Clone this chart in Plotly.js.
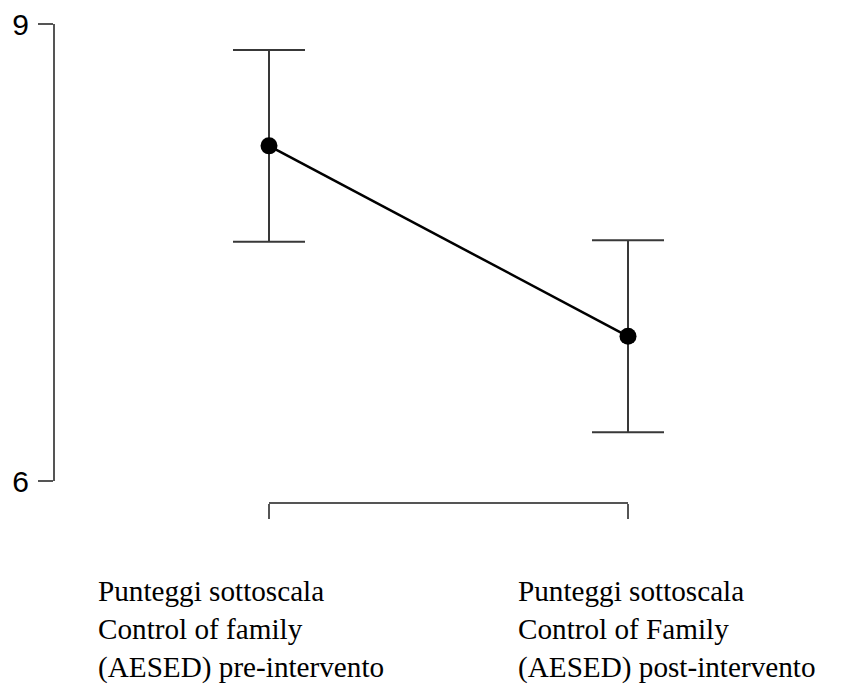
<!DOCTYPE html>
<html>
<head>
<meta charset="utf-8">
<script src="https://cdn.plot.ly/plotly-3.0.1.min.js"></script>
<style>html,body{margin:0;padding:0;background:#fff;}#chart{width:842px;height:686px;}</style>
</head>
<body>
<div id="chart"></div>
<script>
// Data
var categories = [
  "Punteggi sottoscala<br>Control of family<br>(AESED) pre-intervento",
  "Punteggi sottoscala<br>Control of Family<br>(AESED) post-intervento"
];
var means = [8.20, 6.95];
var errors = [0.63, 0.63];
var yTicks = [6, 9];

var xIdx = categories.map(function(_, i){ return i; });

var W = 842, H = 686;
var mL = 54, mT = 24, mB = 183;
var plotW = W - mL;          // paper width (right margin 0)
var plotH = H - mT - mB;     // paper height
var x0px = 269, x1px = 628;  // pixel positions of first/last category
var pxPerUnit = (x1px - x0px) / (xIdx.length - 1);
var xRange = [-(x0px - mL) / pxPerUnit, (xIdx.length - 1) + (W - x1px) / pxPerUnit];

var axisColor = "#555555";

var traces = [
  {
    x: xIdx, y: means, type: "scatter", mode: "none",
    xaxis: "x2", yaxis: "y", hoverinfo: "skip", showlegend: false
  },
  {
    x: xIdx, y: means, type: "scatter", mode: "lines+markers",
    xaxis: "x", yaxis: "y",
    line: {color: "#000000", width: 2.5},
    marker: {color: "#000000", size: 17},
    error_y: {type: "data", array: errors, visible: true, color: "#383838", thickness: 2, width: 36},
    hoverinfo: "skip", showlegend: false, cliponaxis: false
  }
];

var annotations = categories.map(function(c, i){
  var leftPx = [98, 518][i];
  return {
    text: c, xref: "paper", yref: "paper",
    x: (leftPx - mL - 2) / plotW, y: -(573 - (H - mB)) / plotH,
    xanchor: "left", yanchor: "top", align: "left", showarrow: false,
    font: {family: "Liberation Serif, Times New Roman, serif", size: 29.2, color: "#000000"}
  };
});

var layout = {
  width: W, height: H,
  margin: {l: mL, r: 0, t: mT, b: mB, pad: 0},
  paper_bgcolor: "#ffffff", plot_bgcolor: "rgba(0,0,0,0)",
  showlegend: false,
  xaxis: {
    range: xRange, domain: [0, 1], anchor: "free", position: 0,
    showline: false, showgrid: false, zeroline: false, showticklabels: false, ticks: ""
  },
  xaxis2: {
    range: [0, xIdx.length - 1],
    domain: [(x0px - mL) / plotW, (x1px - mL) / plotW],
    anchor: "free", position: 0,
    showline: true, linecolor: axisColor, linewidth: 2,
    ticks: "outside", ticklen: 15, tickwidth: 2, tickcolor: axisColor,
    tickvals: xIdx, showticklabels: false, showgrid: false, zeroline: false
  },
  yaxis: {
    range: [yTicks[0], yTicks[yTicks.length - 1]],
    domain: [(H - mB - 481) / plotH, 1],
    anchor: "free", position: 0,
    showline: true, linecolor: axisColor, linewidth: 2,
    ticks: "outside", ticklen: 15, tickwidth: 2, tickcolor: axisColor,
    tickvals: yTicks, ticktext: yTicks.map(String),
    ticklabelstandoff: 3,
    tickfont: {family: "Liberation Sans, Arial, sans-serif", size: 30, color: "#000000"},
    showgrid: false, zeroline: false
  },
  annotations: annotations
};

Plotly.newPlot("chart", traces, layout, {displayModeBar: false, staticPlot: true});
</script>
</body>
</html>
